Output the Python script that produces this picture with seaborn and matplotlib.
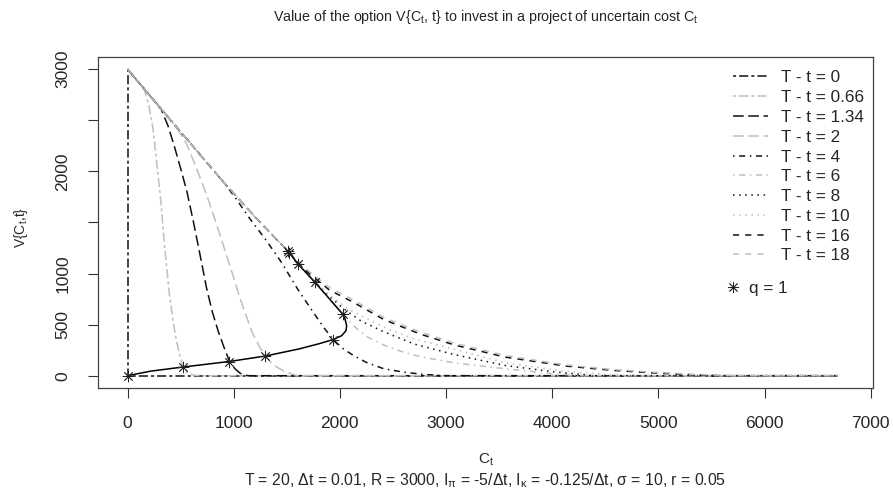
import seaborn as sns
import pandas as pd
import matplotlib.pyplot as plt
from matplotlib.lines import Line2D

sns.set_style("white")
plt.rcParams['font.family'] = ['Liberation Sans', 'DejaVu Sans']
plt.rcParams['mathtext.fontset'] = 'custom'
plt.rcParams['mathtext.rm'] = 'Liberation Sans'
plt.rcParams['mathtext.it'] = 'Liberation Sans:italic'
plt.rcParams['mathtext.default'] = 'regular'

# value curves V{C,t} for each time to maturity T - t
c_00 = [0, 0, 6690]
v_00 = [3000, 0, 0]
c_066 = [0, 156, 200, 240, 267, 308, 350, 394, 430, 458, 490, 522, 560, 620, 680, 6690]
v_066 = [3000, 2810, 2650, 2420, 2162, 1772, 1260, 800, 530, 360, 210, 85, 30, 5, 0, 0]
c_134 = [0, 315, 380, 440, 500, 560, 620, 680, 744, 800, 856, 910, 957, 1010, 1060, 1100, 1150, 6690]
v_134 = [3000, 2613, 2450, 2250, 2030, 1800, 1510, 1200, 860, 620, 430, 275, 150, 70, 25, 5, 0, 0]
c_2 = [0, 470, 560, 650, 744, 830, 920, 1000, 1062, 1120, 1174, 1240, 1295, 1380, 1490, 1600, 6690]
v_2 = [3000, 2422, 2260, 2030, 1772, 1510, 1220, 960, 750, 580, 425, 290, 192, 100, 36, 0, 0]
c_4 = [0, 900, 1014, 1150, 1300, 1450, 1603, 1750, 1850, 1937, 2030, 2128, 2250, 2414, 2600, 2800, 3000, 6690]
v_4 = [3000, 1900, 1745, 1540, 1334, 1110, 847, 620, 470, 354, 265, 198, 130, 68, 35, 12, 0, 0]
c_6 = [0, 300, 600, 900, 1200, 1524, 1762, 2026, 2128, 2250, 2414, 2600, 2764, 3082, 3559, 4000, 4300, 6690]
v_6 = [3000, 2630, 2265, 1900, 1555, 1204, 918, 604, 490, 385, 300, 230, 185, 125, 68, 20, 0, 0]
c_8 = [0, 300, 600, 900, 1200, 1524, 1762, 1900, 2030, 2200, 2414, 2700, 3082, 3559, 4000, 4400, 6690]
v_8 = [3000, 2630, 2265, 1900, 1555, 1204, 918, 780, 660, 535, 430, 310, 206, 100, 40, 0, 0]
c_10 = [0, 300, 600, 900, 1200, 1524, 1603, 1750, 1900, 2100, 2414, 2700, 3082, 3559, 4100, 4700, 6690]
v_10 = [3000, 2630, 2265, 1900, 1555, 1204, 1097, 930, 790, 640, 475, 360, 258, 127, 45, 0, 0]
c_16 = [0, 300, 600, 900, 1200, 1524, 1700, 1900, 2128, 2414, 2750, 3082, 3559, 4132, 4577, 4927, 5305, 5600, 6690]
v_16 = [3000, 2630, 2265, 1900, 1555, 1204, 1010, 840, 718, 550, 410, 300, 182, 94, 52, 29, 10, 0, 0]
c_18 = [0, 300, 600, 900, 1200, 1500, 1700, 1900, 2128, 2414, 2750, 3082, 3559, 4132, 4577, 4927, 5305, 5700, 6690]
v_18 = [3000, 2630, 2265, 1900, 1555, 1230, 1030, 865, 740, 570, 430, 318, 198, 105, 60, 36, 15, 0, 0]

# q = 1 boundary
q_c = [0, 219, 522, 957, 1295, 1619, 1800, 1937, 2017, 2058, 2064, 2050, 2026, 1900, 1762, 1603, 1524]
q_v = [0, 45, 85, 139, 192, 263, 312, 354, 392, 441, 490, 550, 604, 755, 918, 1097, 1204]
star_c = [0, 522, 957, 1295, 1937, 2026, 1762, 1603, 1524, 1508]
star_v = [0, 85, 139, 192, 354, 604, 918, 1097, 1204, 1222]

labels = ["T - t = 0", "T - t = 0.66", "T - t = 1.34", "T - t = 2", "T - t = 4",
          "T - t = 6", "T - t = 8", "T - t = 10", "T - t = 16", "T - t = 18"]
curves = [(c_00, v_00), (c_066, v_066), (c_134, v_134), (c_2, v_2), (c_4, v_4),
          (c_6, v_6), (c_8, v_8), (c_10, v_10), (c_16, v_16), (c_18, v_18)]

dark = "#111111"
light = "#bfbfbf"
colors = [dark, light] * 5
twodash = (0, (2, 2, 6, 2))
longdash = (0, (7, 3))
dotdash = (0, (1, 3, 4, 3))
dotted = (0, (1, 3))
dashed = (0, (4, 4))
styles = [twodash, twodash, longdash, longdash, dotdash, dotdash, dotted, dotted, dashed, dashed]

fig = plt.figure(figsize=(8.93, 4.95), dpi=100)
ax = fig.add_axes([0.1101, 0.2162, 0.8679, 0.6687])

for (cx, vy), lab, col, ls in zip(curves, labels, colors, styles):
    df = pd.DataFrame({"C": cx, "V": vy})
    sns.lineplot(data=df, x="C", y="V", sort=False, estimator=None, color=col,
                 linestyle=ls, linewidth=1.1, ax=ax, legend=False)

qdf = pd.DataFrame({"C": q_c, "V": q_v})
sns.lineplot(data=qdf, x="C", y="V", sort=False, estimator=None, color="black",
             linewidth=1.1, ax=ax, legend=False)
sdf = pd.DataFrame({"C": star_c, "V": star_v})
sns.scatterplot(data=sdf, x="C", y="V", marker=(8, 2, 0), s=60, color="#222222",
                linewidth=0.6, ax=ax, legend=False, zorder=5)

ax.set_xlim(-275, 7025)
ax.set_ylim(-120, 3120)
ax.set_xticks(range(0, 7001, 1000))
ax.set_yticks([0, 500, 1000, 1500, 2000, 2500, 3000])
ax.set_yticklabels(["0", "500", "1000", "", "2000", "", "3000"], rotation=90, va="center")
ax.tick_params(axis="both", direction="out", length=7, width=0.8, color="#333333",
               labelsize=12.5, left=True, bottom=True)
ax.tick_params(axis="x", pad=13)
ax.tick_params(axis="y", pad=13)
for s in ax.spines.values():
    s.set_color("#444444")
    s.set_linewidth(0.9)
ax.set_xlabel("")
ax.set_ylabel("")

fig.text(0.5437, 0.965, "Value of the option V{C$_t$, t} to invest in a project of uncertain cost C$_t$",
         ha="center", va="center", fontsize=10.3)
fig.text(21 / 893, 1 - 227 / 495, "V{C$_t$,t}", rotation=90, ha="center", va="center", fontsize=10)
fig.text(0.5437, 0.072, "C$_t$", ha="center", va="center", fontsize=11)
fig.text(0.5437, 0.028, "T = 20, Δt = 0.01, R = 3000, I$_π$ = -5/Δt, I$_κ$ = -0.125/Δt, σ = 10, r = 0.05",
         ha="center", va="center", fontsize=11.3)

handles = [Line2D([0], [0], color=c, linestyle=ls, linewidth=1.1) for c, ls in zip(colors, styles)]
leg1 = ax.legend(handles, labels, loc="upper left", bbox_to_anchor=(0.8208, 0.8578),
                 bbox_transform=fig.transFigure, frameon=False, fontsize=12.3,
                 handlelength=2.04, handletextpad=0.78, labelspacing=0.28,
                 borderpad=0, borderaxespad=0)
ax.add_artist(leg1)
star_handle = Line2D([0], [0], marker=(8, 2, 0), markersize=8, color="#222222",
                     linestyle="none", markeredgewidth=0.6)
ax.legend([star_handle], ["q = 1"], loc="center left", bbox_to_anchor=(0.812, 0.4175),
          bbox_transform=fig.transFigure, frameon=False, fontsize=12.3,
          handlelength=0.9, handletextpad=0.5, borderpad=0, borderaxespad=0)

fig.savefig("out.png", dpi=100)
